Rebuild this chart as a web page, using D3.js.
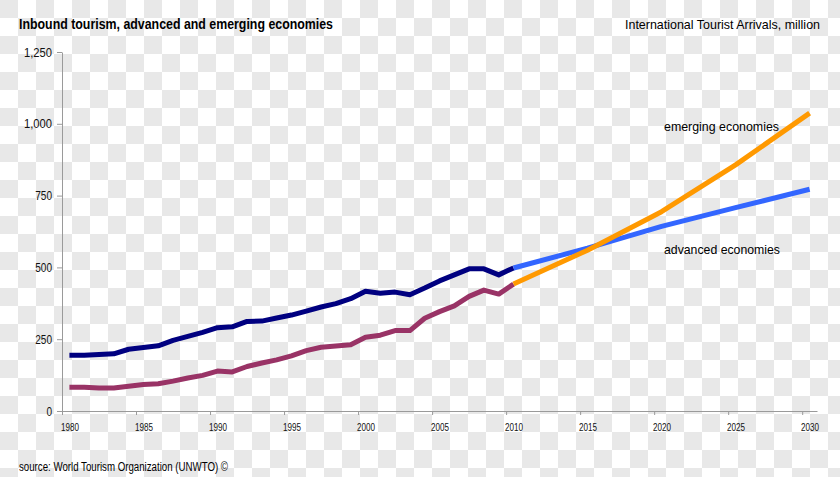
<!DOCTYPE html>
<html><head><meta charset="utf-8">
<script src="https://cdn.jsdelivr.net/npm/d3@7"></script>
<style>
html,body{margin:0;padding:0;background:#fff;}
svg{display:block;}
</style></head>
<body>
<script>
// ---- data ----
const histYears = [1980,1981,1982,1983,1984,1985,1986,1987,1988,1989,1990,1991,1992,1993,1994,1995,1996,1997,1998,1999,2000,2001,2002,2003,2004,2005,2006,2007,2008,2009,2010];
const advancedHist = [194,194,197,199,215,221,227,246,260,274,290,293,312,313,324,334,348,362,374,391,417,410,414,405,428,453,474,495,495,474,498];
const emergingHist = [83,83,80,80,86,92,95,104,115,124,139,136,155,167,178,192,210,222,226,231,257,264,280,280,323,346,366,399,421,407,442];
const projYears = [2010,2015,2020,2025,2030];
const advancedProj = [498,567,643,708,772];
const emergingProj = [442,560,694,857,1037];
const yTicks = [0,250,500,750,1000,1250];
const xTicks = [1980,1985,1990,1995,2000,2005,2010,2015,2020,2025,2030];

const W = 840, H = 477;
const svg = d3.select("body").append("svg").attr("width", W).attr("height", H);

// checkerboard background
const S = 18;
const cells = [];
for (let r = 0; r * S < H; r++) for (let c = 0; c * S < W; c++) if ((r + c) % 2 === 0) cells.push([c, r]);
svg.append("rect").attr("width",W).attr("height",H).attr("fill","#ffffff");
svg.append("g").selectAll("rect").data(cells).join("rect")
  .attr("x", d => d[0]*S).attr("y", d => d[1]*S).attr("width", S).attr("height", S).attr("fill", "#e8e8e8");

const x = d3.scaleLinear().domain([1980, 2031]).range([62, 817]);
const y = d3.scaleLinear().domain([0, 1250]).range([411, 52]);

const font = "'Liberation Sans',Arial,sans-serif";
function fit(sel, len){ sel.attr("textLength", len).attr("lengthAdjust","spacingAndGlyphs"); return sel; }

// y axis
const ya = svg.append("g").attr("transform","translate(62,0)")
  .call(d3.axisLeft(y).tickValues(yTicks).tickSize(5).tickSizeOuter(0).tickFormat(d3.format(",")));
ya.select(".domain").attr("stroke","#9a9a9a");
ya.selectAll(".tick line").attr("stroke","#9a9a9a");
ya.selectAll(".tick text").attr("font-family",font).attr("font-size",13).attr("fill","#111").attr("x",-10)
  .each(function(d){ const s = d3.format(",")(d); d3.select(this).attr("textLength", s.length*5.6).attr("lengthAdjust","spacingAndGlyphs"); });

// x axis
const xa = svg.append("g").attr("transform","translate(0,411)")
  .call(d3.axisBottom(x).tickValues(xTicks).tickSize(4).tickSizeOuter(0).tickFormat(""));
xa.select(".domain").attr("stroke","#9a9a9a");
xa.selectAll(".tick line").attr("stroke","#9a9a9a");
svg.append("g").selectAll("text").data(xTicks).join("text")
  .attr("x", d => x(d + 0.5) - 8.5).attr("y", 431)
  .attr("font-family",font).attr("font-size",11.5).attr("fill","#111")
  .attr("textLength",18).attr("lengthAdjust","spacingAndGlyphs")
  .text(d => d);

// lines
const line = d3.line().x(d => x(d[0] + 0.5)).y(d => y(d[1]));
function draw(years, vals, color){
  svg.append("path").datum(years.map((yr,i)=>[yr, vals[i]]))
    .attr("d", line).attr("fill","none").attr("stroke", color)
    .attr("stroke-width", 5).attr("stroke-linejoin","round").attr("stroke-linecap","butt");
}
draw(histYears, advancedHist, "#000080");
draw(histYears, emergingHist, "#993366");
draw(projYears, advancedProj, "#3366ff");
draw(projYears, emergingProj, "#ff9900");

// texts
fit(svg.append("text").attr("x",19).attr("y",29).attr("font-family",font).attr("font-weight","bold")
  .attr("font-size",15).attr("fill","#000").text("Inbound tourism, advanced and emerging economies"), 314);
fit(svg.append("text").attr("x",820).attr("y",29).attr("text-anchor","end").attr("font-family",font)
  .attr("font-size",13).attr("fill","#000").text("International Tourist Arrivals, million"), 195);
fit(svg.append("text").attr("x",664).attr("y",131).attr("font-family",font)
  .attr("font-size",13.5).attr("fill","#000").text("emerging economies"), 115);
fit(svg.append("text").attr("x",664).attr("y",254).attr("font-family",font)
  .attr("font-size",13.5).attr("fill","#000").text("advanced economies"), 116);
fit(svg.append("text").attr("x",19).attr("y",471).attr("font-family",font)
  .attr("font-size",12.5).attr("fill","#000").text("source: World Tourism Organization (UNWTO) \u00a9"), 209);
</script>
</body></html>
